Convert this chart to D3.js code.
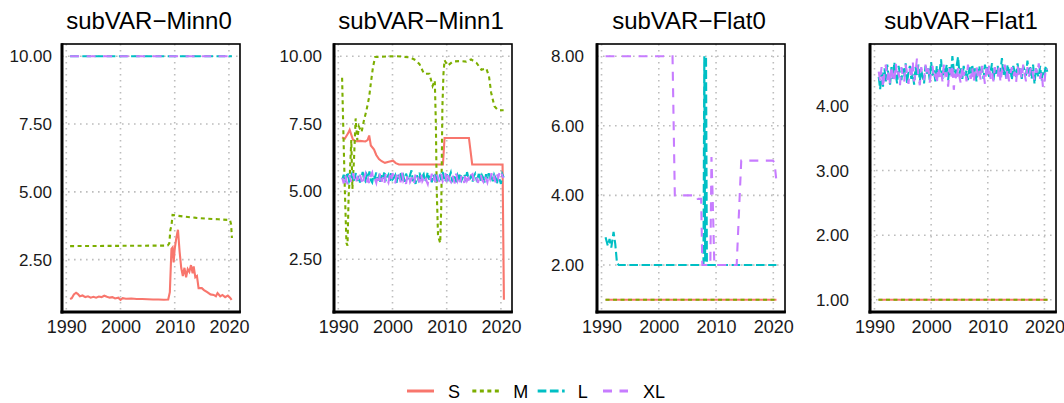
<!DOCTYPE html>
<html>
<head>
<meta charset="utf-8">
<script src="https://cdn.jsdelivr.net/npm/d3@7"></script>
<style>
  body { margin: 0; background: #fff; }
  svg { display: block; font-family: "Liberation Sans", Arial, sans-serif; }
</style>
</head>
<body>
<div id="chart"></div>
<script>
// ======= data ========

var seriesNames = ["S", "M", "L", "XL"];
var yTicks = {
  Minn0: [2.5, 5, 7.5, 10],
  Minn1: [2.5, 5, 7.5, 10],
  Flat0: [2, 4, 6, 8],
  Flat1: [1, 2, 3, 4]
};
var xTicks = [1990, 2000, 2010, 2020];

// quarterly dates for the noisy series
var quarters = d3.range(120).map(function(i) { return 1990.75 + i * 0.25; });

var minn0_S = [[1990.7,1.05],[1991.0,1.08],[1991.4,1.22],[1991.8,1.28],[1992.1,1.24],[1992.5,1.15],[1993.0,1.18],[1993.5,1.12],
  [1994.0,1.15],[1994.5,1.1],[1995.0,1.13],[1995.5,1.1],[1996.0,1.14],[1996.5,1.12],[1997.0,1.17],[1997.5,1.13],[1998.0,1.1],
  [1998.5,1.12],[1999.0,1.07],[1999.6,1.1],[2000.0,1.02],[2000.4,1.08],[2001.0,1.06],[2002.0,1.07],[2003.0,1.05],[2004.0,1.05],
  [2005.0,1.04],[2006.0,1.03],[2007.0,1.03],[2008.0,1.02],[2008.8,1.03],[2009.1,1.3],[2009.4,2.9],[2009.6,2.95],[2009.8,2.4],
  [2010.0,2.9],[2010.3,3.3],[2010.6,3.6],[2010.9,2.8],[2011.2,2.2],[2011.5,1.9],[2011.8,2.2],[2012.1,1.85],[2012.4,2.15],
  [2012.7,2.05],[2013.0,2.3],[2013.3,2.0],[2013.5,2.25],[2013.8,1.85],[2014.1,1.9],[2014.4,1.45],[2015.0,1.45],[2015.4,1.38],
  [2016.0,1.3],[2016.6,1.22],[2017.2,1.2],[2017.6,1.15],[2017.9,1.27],[2018.4,1.15],[2018.8,1.2],[2019.3,1.12],[2019.8,1.18],
  [2020.2,1.1],[2020.5,1.02]];
var minn0_M = [[1990.7,3.0],[2008.7,3.02],[2009.0,3.1],[2009.2,3.6],[2009.4,3.75],[2009.6,4.15],[2010.5,4.12],[2012.0,4.08],
  [2014.0,4.04],[2016.0,4.01],[2018.0,3.99],[2020.2,3.96],[2020.4,3.8],[2020.55,3.3]];
var minn0_L = [[1990.7,10],[2020.55,10]];
var minn0_XL = [[1990.7,10],[2020.55,10]];

var minn1_S = [[1990.7,7.0],[1991.2,6.95],[1991.8,7.15],[1992.1,7.28],[1992.7,6.92],[1993.2,6.86],[1994.0,6.87],[1995.0,6.85],
  [1995.4,6.9],[1995.7,7.07],[1996.0,6.7],[1996.6,6.55],[1997.0,6.35],[1997.5,6.2],[1998.0,6.12],[1998.6,6.06],[1999.3,6.1],
  [2000.1,6.14],[2000.6,6.05],[2001.2,6.0],[2009.3,6.0],[2009.6,6.98],[2014.1,6.98],[2014.7,6.0],[2020.3,6.0],[2020.55,1.0]];
var minn1_M = [[1990.7,9.2],[1990.9,7.5],[1991.2,5.1],[1991.5,3.1],[1991.7,3.0],[1991.9,4.8],[1992.1,5.5],[1992.4,6.9],
  [1992.6,5.1],[1992.9,6.2],[1993.2,7.7],[1993.5,6.9],[1993.8,7.4],[1994.3,7.2],[1994.7,7.6],[1995.2,8.0],[1995.7,8.5],
  [1996.0,9.0],[1996.4,9.6],[1996.8,9.97],[1998.0,9.98],[2000.5,10.0],[2002.0,9.98],[2003.3,9.95],[2004.3,9.85],[2005.0,9.7],
  [2005.8,9.35],[2006.8,9.35],[2007.4,8.9],[2007.8,9.1],[2008.0,7.5],[2008.15,5.1],[2008.4,3.35],[2008.8,3.1],[2009.0,4.5],
  [2009.2,8.1],[2009.4,9.35],[2009.6,9.85],[2010.2,9.65],[2011.1,9.8],[2012.4,9.82],[2013.6,9.8],[2014.5,9.88],[2015.5,9.75],
  [2016.4,9.5],[2017.3,9.55],[2017.8,9.25],[2018.2,8.65],[2018.8,8.15],[2019.4,8.02],[2020.1,8.0],[2020.5,8.0]];
var minn1_L = [5.45,5.62,5.34,5.56,5.72,5.38,5.5,5.64,5.36,5.48,5.68,5.4,
  5.6,5.33,5.52,5.72,5.45,5.38,5.62,5.5,5.74,5.42,5.34,5.6,
  5.5,5.7,5.4,5.56,5.36,5.64,5.47,5.76,5.38,5.53,5.62,5.34,
  5.68,5.44,5.5,5.6,5.32,5.64,5.47,5.72,5.4,5.57,5.36,5.66,
  5.5,5.42,5.62,5.78,5.38,5.53,5.28,5.6,5.45,5.7,5.4,5.56,
  5.64,5.36,5.5,5.72,5.44,5.6,5.34,5.62,5.47,5.68,5.38,5.53,
  5.6,5.42,5.72,5.5,5.36,5.64,5.45,5.56,5.7,5.4,5.5,5.62,
  5.34,5.6,5.47,5.68,5.42,5.53,5.64,5.38,5.72,5.5,5.44,5.62,
  5.36,5.57,5.66,5.44,5.53,5.72,5.4,5.6,5.5,5.34,5.64,5.47,
  5.68,5.42,5.56,5.38,5.62,5.5,5.26,5.6,5.45,5.28,5.64,5.52];
var minn1_XL = [5.5,5.3,5.64,5.38,5.26,5.6,5.44,5.33,5.68,5.4,5.28,5.56,
  5.36,5.62,5.43,5.23,5.53,5.66,5.34,5.48,5.28,5.6,5.7,5.38,
  5.46,5.32,5.62,5.4,5.72,5.36,5.53,5.28,5.64,5.46,5.34,5.6,
  5.38,5.68,5.48,5.3,5.62,5.43,5.55,5.34,5.7,5.4,5.5,5.28,
  5.6,5.66,5.36,5.46,5.57,5.32,5.64,5.43,5.5,5.34,5.68,5.38,
  5.48,5.62,5.4,5.28,5.57,5.46,5.66,5.36,5.53,5.32,5.62,5.43,
  5.34,5.64,5.38,5.5,5.68,5.32,5.6,5.43,5.36,5.62,5.46,5.3,
  5.66,5.4,5.55,5.34,5.62,5.48,5.32,5.68,5.4,5.5,5.36,5.6,
  5.64,5.38,5.46,5.57,5.32,5.5,5.66,5.43,5.36,5.62,5.48,5.34,
  5.6,5.46,5.68,5.38,5.53,5.34,5.64,5.5,5.72,5.8,5.57,5.5];

var flat0_S = [[1990.7,1],[2020.55,1]];
var flat0_M = [[1990.7,1],[2020.55,1]];
var flat0_L = [[1990.7,2.8],[1991.1,2.55],[1991.4,2.75],[1991.7,2.5],[1992.1,2.95],[1992.4,2.6],[1992.7,2.05],[1993.0,2.0],
  [2007.8,2.0],[2007.95,8.0],[2008.1,2.1],[2008.25,8.0],[2008.4,2.0],[2020.55,2.0]];
var flat0_XL = [[1990.7,8],[2002.4,8],[2002.8,4],[2006.6,4],[2006.8,3.9],[2007.4,3.9],[2007.6,2.0],[2009.0,2.0],[2009.2,5.1],
  [2009.4,4.0],[2009.7,2.0],[2013.6,2.0],[2014.4,5.0],[2019.9,5.0],[2020.2,4.95],[2020.55,4.4]];

var flat1_S = [[1990.7,1],[2020.55,1]];
var flat1_M = [[1990.7,1],[2020.55,1]];
var flat1_L = [4.45,4.26,4.52,4.3,4.58,4.38,4.64,4.46,4.33,4.6,4.42,4.68,
  4.48,4.35,4.62,4.5,4.4,4.58,4.45,4.66,4.35,4.53,4.62,4.42,
  4.5,4.33,4.6,4.47,4.64,4.38,4.55,4.45,4.35,4.62,4.5,4.58,
  4.4,4.68,4.47,4.55,4.38,4.62,4.45,4.53,4.72,4.42,4.58,4.5,
  4.64,4.4,4.6,4.47,4.77,4.55,4.45,4.62,4.76,4.5,4.58,4.42,
  4.62,4.47,4.55,4.4,4.6,4.5,4.64,4.45,4.58,4.38,4.53,4.62,
  4.47,4.58,4.42,4.64,4.5,4.6,4.45,4.53,4.66,4.4,4.58,4.5,
  4.62,4.45,4.55,4.74,4.47,4.6,4.42,4.64,4.5,4.58,4.4,4.62,
  4.53,4.45,4.66,4.5,4.58,4.42,4.62,4.55,4.47,4.7,4.5,4.6,
  4.42,4.64,4.34,4.58,4.5,4.45,4.62,4.38,4.55,4.5,4.62,4.53];
var flat1_XL = [4.53,4.38,4.6,4.28,4.5,4.64,4.4,4.56,4.33,4.62,4.47,4.36,
  4.66,4.44,4.53,4.32,4.6,4.45,4.38,4.64,4.5,4.34,4.58,4.42,
  4.7,4.38,4.53,4.74,4.45,4.32,4.6,4.5,4.4,4.64,4.47,4.58,
  4.36,4.53,4.62,4.42,4.5,4.34,4.6,4.45,4.55,4.38,4.64,4.47,
  4.5,4.3,4.58,4.42,4.64,4.25,4.5,4.38,4.6,4.45,4.34,4.62,
  4.47,4.55,4.38,4.64,4.5,4.42,4.6,4.36,4.53,4.62,4.45,4.55,
  4.4,4.62,4.5,4.34,4.58,4.47,4.64,4.42,4.53,4.38,4.6,4.5,
  4.45,4.62,4.36,4.55,4.5,4.64,4.42,4.58,4.38,4.5,4.6,4.45,
  4.53,4.36,4.62,4.47,4.58,4.42,4.64,4.5,4.38,4.6,4.45,4.55,
  4.62,4.47,4.4,4.58,4.5,4.66,4.42,4.53,4.28,4.34,4.6,4.56];

// ======= layout ========

var width = 1064;
var height = 403;
var panelTop = 44;
var panelBottom = 312;

var colors = { S: "#F8766D", M: "#7CAE00", L: "#00BFC4", XL: "#C77CFF" };
var dashes = { S: null, M: "4,3.5", L: "8.7,3.5", XL: "9,7.5" };

function withDates(values) {
  return values.map(function(v, i) { return [quarters[i], v]; });
}

var panels = [
  { name: "Minn0", left: 62, right: 240, labelGap: 10,
    series: { S: minn0_S, M: minn0_M, L: minn0_L, XL: minn0_XL } },
  { name: "Minn1", left: 334, right: 512, labelGap: 12,
    series: { S: minn1_S, M: minn1_M, L: withDates(minn1_L), XL: withDates(minn1_XL) } },
  { name: "Flat0", left: 597, right: 785, labelGap: 13,
    series: { S: flat0_S, M: flat0_M, L: flat0_L, XL: flat0_XL } },
  { name: "Flat1", left: 870, right: 1056, labelGap: 21,
    series: { S: flat1_S, M: flat1_M, L: withDates(flat1_L), XL: withDates(flat1_XL) } }
];

var svg = d3.select("#chart")
  .append("svg")
    .attr("width", width)
    .attr("height", height);

svg.append("rect").attr("width", width).attr("height", height).attr("fill", "#fff");

// expand a domain by 5% each side, like ggplot
function expand(ext) {
  var pad = (ext[1] - ext[0]) * 0.05;
  return [ext[0] - pad, ext[1] + pad];
}

panels.forEach(function(p) {
  var all = [];
  seriesNames.forEach(function(s) { all = all.concat(p.series[s]); });

  var x = d3.scaleLinear()
      .domain(expand(d3.extent(all, function(d) { return d[0]; })))
      .range([p.left, p.right]);
  var y = d3.scaleLinear()
      .domain(expand(d3.extent(all, function(d) { return d[1]; })))
      .range([panelBottom, panelTop]);

  var g = svg.append("g").attr("class", "panel");

  // grid
  g.selectAll(".hgrid")
      .data(yTicks[p.name])
    .enter().append("line")
      .attr("x1", p.left).attr("x2", p.right)
      .attr("y1", function(d) { return y(d); })
      .attr("y2", function(d) { return y(d); })
      .style("stroke", "#bdbdbd").style("stroke-width", 1.6)
      .style("stroke-dasharray", "1.6,4.4");
  g.selectAll(".vgrid")
      .data(xTicks)
    .enter().append("line")
      .attr("y1", panelTop).attr("y2", panelBottom)
      .attr("x1", function(d) { return x(d); })
      .attr("x2", function(d) { return x(d); })
      .style("stroke", "#bdbdbd").style("stroke-width", 1.6)
      .style("stroke-dasharray", "1.6,4.4");

  // lines
  var line = d3.line()
      .x(function(d) { return x(d[0]); })
      .y(function(d) { return y(d[1]); });

  seriesNames.forEach(function(s) {
    g.append("path")
        .datum(p.series[s])
        .attr("d", line)
        .style("fill", "none")
        .style("stroke", colors[s])
        .style("stroke-width", 2.1)
        .style("stroke-dasharray", dashes[s]);
  });

  // border + axis lines
  g.append("rect")
      .attr("x", p.left).attr("y", panelTop)
      .attr("width", p.right - p.left).attr("height", panelBottom - panelTop)
      .style("fill", "none").style("stroke", "#000").style("stroke-width", 1.6);
  g.append("line")
      .attr("x1", p.left).attr("x2", p.left)
      .attr("y1", panelTop - 0.8).attr("y2", panelBottom + 1.5)
      .style("stroke", "#000").style("stroke-width", 3);
  g.append("line")
      .attr("x1", p.left - 1.5).attr("x2", p.right + 0.8)
      .attr("y1", panelBottom).attr("y2", panelBottom)
      .style("stroke", "#000").style("stroke-width", 3);

  // axes (labels only)
  var yAxis = g.append("g")
      .attr("transform", "translate(" + p.left + ",0)")
      .call(d3.axisLeft(y).tickValues(yTicks[p.name]).tickFormat(d3.format(".2f"))
        .tickSize(0).tickPadding(p.labelGap));
  var xAxis = g.append("g")
      .attr("transform", "translate(0," + panelBottom + ")")
      .call(d3.axisBottom(x).tickValues(xTicks).tickFormat(d3.format("d"))
        .tickSize(0).tickPadding(8));
  [yAxis, xAxis].forEach(function(a) {
    a.select(".domain").remove();
    a.selectAll("text").attr("fill", "#1a1a1a")
      .style("font-family", "'Liberation Sans', Arial, sans-serif");
  });
  yAxis.selectAll("text").style("font-size", "17px");
  xAxis.selectAll("text").style("font-size", "18px");

  // title
  g.append("text")
      .attr("x", (p.left + p.right) / 2 - 2)
      .attr("y", 29)
      .attr("text-anchor", "middle")
      .style("font-size", "24px")
      .attr("fill", "#000")
      .text("subVAR\u2212" + p.name);
});

// ======= legend ========

var legendX = d3.scalePoint().domain(seriesNames).range([407, 603]);
var legendOffsets = { S: 41, M: 41, L: 40, XL: 40 };

var legend = svg.selectAll(".legendItem")
    .data(seriesNames)
  .enter().append("g")
    .attr("class", "legendItem")
    .attr("transform", function(d) { return "translate(" + legendX(d) + ",391)"; });

legend.append("line")
    .attr("x1", 0).attr("x2", function(d) { return d === "XL" ? 25 : 27; })
    .style("stroke", function(d) { return colors[d]; })
    .style("stroke-width", 3)
    .style("stroke-dasharray", function(d) { return dashes[d]; });

legend.append("text")
    .attr("x", function(d) { return legendOffsets[d]; })
    .attr("y", 6.5)
    .style("font-size", "18px")
    .attr("fill", "#000")
    .text(function(d) { return d; });
</script>
</body>
</html>
